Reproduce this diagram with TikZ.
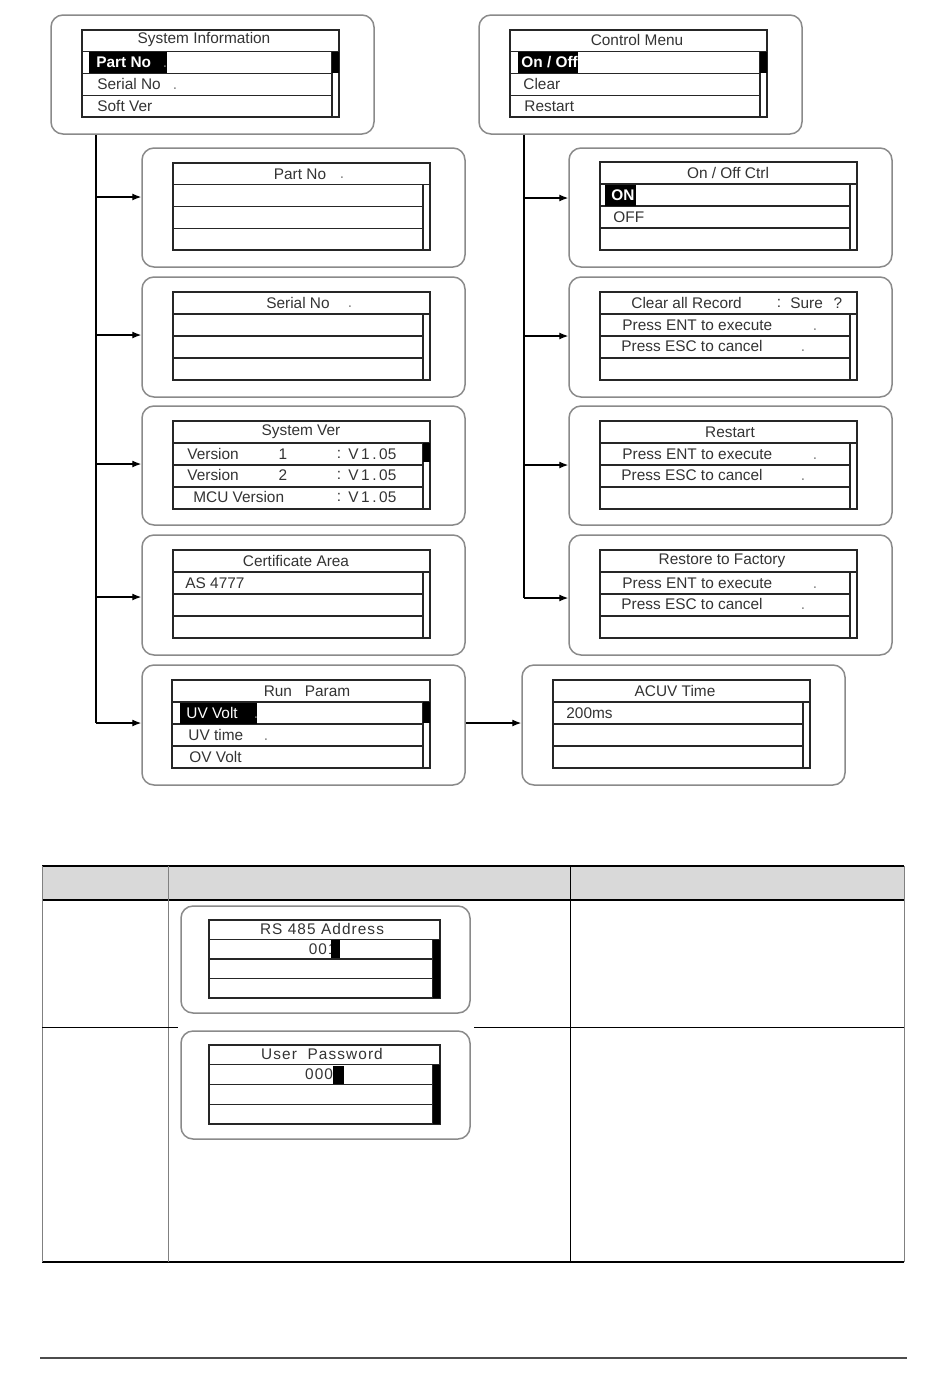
\documentclass[tikz,border=0pt]{standalone}
\usepackage{fontspec}
\setmainfont{Liberation Sans}
\newfontfamily\spacedfont[LetterSpace=7]{Liberation Sans}
\usetikzlibrary{arrows.meta}
\definecolor{panelc}{HTML}{8A8A8A}
\definecolor{lcdc}{HTML}{262626}
\definecolor{txtc}{HTML}{333333}
\definecolor{hdrc}{HTML}{D9D9D9}
\newcommand\panel[5]{%
  \pgfmathsetmacro\pnw{(#4-#2)*0.5}\pgfmathsetmacro\pnh{(#5-#3)*0.5}%
  \node[panelbox, minimum width=\pnw pt, minimum height=\pnh pt] (#1) at ({(#2+#4)/2},{(#3+#5)/2}) {};}
\newcommand\lcd[5]{%
  \pgfmathsetmacro\lw{(#4-#2)*0.5}\pgfmathsetmacro\lh{(#5-#3)*0.5}%
  \pgfmathsetmacro\rh{(#5-#3)/4}%
  \pgfmathsetmacro\ya{#3+\rh}\pgfmathsetmacro\yb{#3+2*\rh}\pgfmathsetmacro\yc{#3+3*\rh}%
  \pgfmathsetmacro\xs{#4-7}%
  \node[lcdbox, minimum width=\lw pt, minimum height=\lh pt] (#1) at ({(#2+#4)/2},{(#3+#5)/2}) {};
  \draw[lcdline] (#2,\ya) -- (#4,\ya);
  \draw[lcdline] (\xs,\ya) -- (\xs,#5);
  \draw[lcdline] (#2,\yb) -- (\xs,\yb) (#2,\yc) -- (\xs,\yc);}
\begin{document}
\begin{tikzpicture}[x=0.5pt,y=-0.5pt,
  panelbox/.style={draw=panelc, line width=0.75pt, rounded corners=6pt, fill=white, inner sep=0pt},
  lcdbox/.style={draw=lcdc, line width=0.6pt, inner sep=0pt},
  lcdline/.style={draw=lcdc, line width=0.6pt},
  txt/.style={font=\fontsize{7.7}{9}\selectfont, text=txtc, inner sep=0pt},
  txtl/.style={txt, anchor=west},
  txthl/.style={txt, anchor=west, text=white},
  dotc/.style={txt, text=gray},
  sp/.style={font=\spacedfont\fontsize{7.7}{9}\selectfont, text=txtc, inner sep=0pt},
  arr/.style={-{Latex[length=4.5pt,width=3.5pt]}, line width=0.6pt, draw=black},
  spine/.style={line width=0.6pt, draw=black}]
\useasboundingbox[fill=white] (0,0) rectangle (950,1387);

% ---------- panels ----------
\panel{pSys}{51}{15}{374}{134}
\panel{pCtl}{479}{15}{802}{134}
\panel{pPart}{142}{148}{465}{267}
\panel{pSerial}{142}{277}{465}{397}
\panel{pVer}{142}{406}{465}{525}
\panel{pCert}{142}{535}{465}{655}
\panel{pRun}{142}{665}{465}{785}
\panel{pOnOff}{569}{148}{892}{267}
\panel{pClear}{569}{277}{892}{397}
\panel{pRestart}{569}{406}{892}{525}
\panel{pRestore}{569}{535}{892}{655}
\panel{pAcuv}{522}{665}{845}{785}

% ---------- screens ----------
\lcd{sSys}{82}{30}{339}{117}
\lcd{sCtl}{510}{30}{767}{117}
\lcd{sPart}{173}{163}{430}{250}
\lcd{sSerial}{173}{292}{430}{380}
\lcd{sVer}{173}{421}{430}{509}
\lcd{sCert}{173}{550}{430}{638}
\lcd{sRun}{172}{680}{430}{768}
\lcd{sOnOff}{600}{162}{857}{250}
\lcd{sClear}{600}{292}{857}{380}
\lcd{sRestart}{600}{421}{857}{509}
\lcd{sRestore}{600}{550}{857}{638}
\lcd{sAcuv}{553}{680}{810}{768}

% ---------- highlights and scroll marks ----------
\fill[black] (89,52) rectangle (167,73);
\fill[black] (332,51.75) rectangle (339,73);
\fill[black] (518,52) rectangle (578,73);
\fill[black] (760,51.75) rectangle (767,73);
\fill[black] (605,185) rectangle (636,206);
\fill[black] (423,443) rectangle (430,462);
\fill[black] (180,703) rectangle (257,724);
\fill[black] (423,702) rectangle (430,723);

% ---------- texts ----------
\node[txt] (tSys) at (204,40) {System Information};
\node[txthl, font=\fontsize{7.7}{9}\selectfont\bfseries] (tSys1) at (96,62) {Part No};
\node[dotc] (dSys1) at (165,67) {.};
\node[txtl] (tSys2) at (97,84) {Serial No};
\node[dotc] (dSys2) at (175,89) {.};
\node[txtl] (tSys3) at (97,106) {Soft Ver};

\node[txt] (tCtl) at (637,40) {Control Menu};
\node[txthl, font=\fontsize{7.7}{9}\selectfont\bfseries] (tCtl1) at (521,62) {On / Off};
\node[txtl] (tCtl2) at (523,84) {Clear};
\node[txtl] (tCtl3) at (524,106) {Restart};

\node[txt] (tPart) at (300,174) {Part No};
\node[dotc] (dPart) at (342,178) {.};
\node[txt] (tSerial) at (298,303) {Serial No};
\node[dotc] (dSerial) at (350,307) {.};

\node[txt] (tVer) at (301,432) {System Ver};
\node[txtl] (tVer1a) at (187,454) {Version};
\node[txt] (tVer1b) at (283,454) {1};
\node[txt] (tVer1c) at (339,454) {:};
\node[txtl] (tVer1d) at (348,454) {V\,1\,.\,05};
\node[txtl] (tVer2a) at (187,475) {Version};
\node[txt] (tVer2b) at (283,475) {2};
\node[txt] (tVer2c) at (339,475) {:};
\node[txtl] (tVer2d) at (348,475) {V\,1\,.\,05};
\node[txtl] (tVer3a) at (193,497) {MCU Version};
\node[txt] (tVer3c) at (339,497) {:};
\node[txtl] (tVer3d) at (348,497) {V\,1\,.\,05};

\node[txt] (tCert) at (296,561) {Certificate Area};
\node[txtl] (tCert1) at (185,583) {AS 4777};

\node[txt] (tRun) at (307,691) {Run\ \ \ Param};
\node[txthl] (tRun1) at (186,713) {UV Volt};
\node[dotc] (dRun1) at (256,718) {.};
\node[txtl] (tRun2) at (188,735) {UV time};
\node[dotc] (dRun2) at (266,740) {.};
\node[txtl] (tRun3) at (189,757) {OV Volt};

\node[txt] (tOnOff) at (728,173) {On / Off Ctrl};
\node[txthl, font=\fontsize{7.7}{9}\selectfont\bfseries] (tOnOff1) at (611,195) {ON};
\node[txtl] (tOnOff2) at (613,217) {OFF};

\node[txtl] (tClear) at (631,303) {Clear all Record};
\node[txt] (tClearC) at (779,303) {:};
\node[txtl] (tClearS) at (790,303) {Sure};
\node[txt] (tClearQ) at (838,303) {?};
\node[txtl] (tClear1) at (622,325) {Press ENT to execute};
\node[dotc] (dClear1) at (815,330) {.};
\node[txtl] (tClear2) at (621,346) {Press ESC to cancel};
\node[dotc] (dClear2) at (803,351) {.};

\node[txt] (tRestart) at (730,432) {Restart};
\node[txtl] (tRestart1) at (622,454) {Press ENT to execute};
\node[dotc] (dRestart1) at (815,459) {.};
\node[txtl] (tRestart2) at (621,475) {Press ESC to cancel};
\node[dotc] (dRestart2) at (803,480) {.};

\node[txt] (tRestore) at (722,561) {Restore to Factory};
\node[txtl] (tRestore1) at (622,583) {Press ENT to execute};
\node[dotc] (dRestore1) at (815,588) {.};
\node[txtl] (tRestore2) at (621,604) {Press ESC to cancel};
\node[dotc] (dRestore2) at (803,609) {.};

\node[txt] (tAcuv) at (675,691) {ACUV Time};
\node[txtl] (tAcuv1) at (566,713) {200ms};

% ---------- connectors ----------
\coordinate (spL) at (96,723);
\coordinate (spR) at (524,598);
\draw[spine] (pSys.south -| spL) -- (spL);
\draw[spine] (pCtl.south -| spR) -- (spR);
\draw[arr] (spL |- 0,197) -- (pPart.west |- 0,197);
\draw[arr] (spL |- 0,335) -- (pSerial.west |- 0,335);
\draw[arr] (spL |- 0,464) -- (pVer.west |- 0,464);
\draw[arr] (spL |- 0,597) -- (pCert.west |- 0,597);
\draw[arr] (spL) -- (pRun.west |- spL);
\draw[arr] (spR |- 0,198) -- (pOnOff.west |- 0,198);
\draw[arr] (spR |- 0,336) -- (pClear.west |- 0,336);
\draw[arr] (spR |- 0,465) -- (pRestart.west |- 0,465);
\draw[arr] (spR) -- (pRestore.west |- spR);
\draw[arr] (pRun.east |- 0,723) -- (pAcuv.west |- 0,723);

% ---------- table ----------
\fill[hdrc] (42,866) rectangle (904,900);
\draw[line width=0.6pt, draw=black] (42,866) -- (904,866);
\draw[line width=0.6pt, draw=black] (42,900) -- (904,900);
\draw[line width=0.6pt, draw=black] (42,1262) -- (904,1262);
\draw[line width=0.5pt, draw=gray] (42,866) -- (42,1262);
\draw[line width=0.5pt, draw=gray] (168,866) -- (168,1262);
\draw[line width=0.5pt, draw=black] (570,866) -- (570,1262);
\draw[line width=0.5pt, draw=gray] (904,866) -- (904,1262);
\draw[line width=0.5pt, draw=black] (42,1027) -- (178,1027) (474,1027) -- (904,1027);

\panel{pAddr}{181}{906}{470}{1013}
\panel{pPwd}{181}{1031}{470}{1139}
\lcd{sAddr}{209}{920}{440}{998}
\lcd{sPwd}{209}{1045}{440}{1124}
\fill[black] (433,939.5) rectangle (440,998);
\fill[black] (433,1064.75) rectangle (440,1124);
\node[sp] (tAddr) at (322,929) {RS 485 Address};
\node[sp, anchor=east] (tAddr1) at (337,949) {001};
\fill[black] (331,940) rectangle (340,958);
\node[sp] (tPwd) at (322,1054) {User\ \ Password};
\node[sp, anchor=east] (tPwd1) at (343,1074) {0000};
\fill[black] (333,1066) rectangle (344,1084);

% ---------- footer rule ----------
\draw[line width=1pt, draw=black!70] (40,1358) -- (907,1358);
\end{tikzpicture}
\end{document}
